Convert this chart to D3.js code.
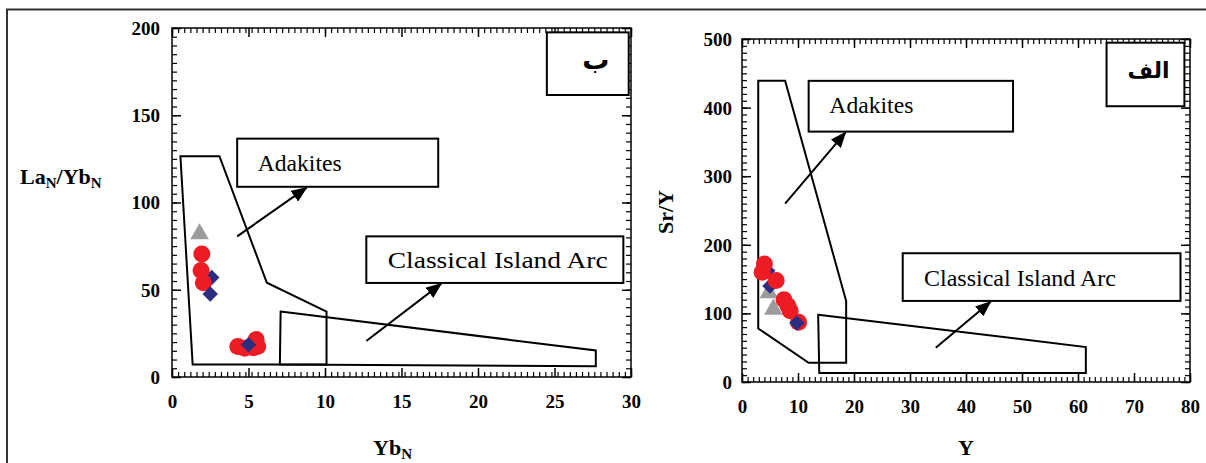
<!DOCTYPE html>
<html>
<head>
<meta charset="utf-8">
<script src="https://cdn.jsdelivr.net/npm/d3@7"></script>
<style>
  body { margin: 0; background: #fff; }
</style>
</head>
<body>
<script>
// ---- panel "ب" : LaN/YbN vs YbN ----
const xTicksB = [0, 5, 10, 15, 20, 25, 30];
const yTicksB = [0, 50, 100, 150, 200];
const grayB = [[1.8, 82]];
const navyUnderB = [[2.6, 57]];
const redB = [[1.95, 70.5], [1.9, 61], [2.05, 54], [4.3, 17.5], [4.75, 16.5], [5.3, 16.8], [5.5, 21.5], [5.6, 17.5]];
const navyB = [[2.5, 47.5], [5, 18.5]];
const adakiteFieldB = [[0.55, 126.5], [3.1, 126.5], [6.2, 54], [10.1, 37.5], [10.1, 7.2], [1.35, 7.2]];
const arcFieldB = [[7.1, 37.5], [27.7, 15.2], [27.7, 6.2], [7.05, 7.2]];

// ---- panel "الف" : Sr/Y vs Y ----
const xTicksA = [0, 10, 20, 30, 40, 50, 60, 70, 80];
const yTicksA = [0, 100, 200, 300, 400, 500];
const grayA = [[4.8, 130], [5.6, 106]];
const navyUnderA = [[4.6, 162], [5, 140]];
const redA = [[4.0, 172], [3.6, 160], [6.1, 148], [7.5, 120], [8.2, 111], [8.6, 104], [10.1, 87]];
const navyA = [[9.8, 86]];
const adakiteFieldA = [[2.9, 439], [7.7, 439], [18.6, 118], [18.6, 28], [11.9, 28], [2.9, 78]];
const arcFieldA = [[13.6, 98], [61.4, 51], [61.4, 13], [13.8, 13]];

const width = 1206, height = 463;
const serif = '"Liberation Serif", "Times New Roman", serif';

let svg = d3.select('body').append('svg')
    .attr('width', width)
    .attr('height', height);

svg.append('rect').attr('width', width).attr('height', height).attr('fill', '#fff');

// arrow head
svg.append('defs').append('marker')
    .attr('id', 'head')
    .attr('markerUnits', 'userSpaceOnUse')
    .attr('viewBox', '0 0 16 13')
    .attr('markerWidth', 16)
    .attr('markerHeight', 13)
    .attr('refX', 15)
    .attr('refY', 6.5)
    .attr('orient', 'auto')
    .append('path')
    .attr('d', 'M0,0 L16,6.5 L0,13 Z')
    .attr('fill', '#000');

// outer frame (top + left only)
svg.append('path')
    .attr('d', `M7,${height} V9.5 H${width}`)
    .attr('fill', 'none')
    .attr('stroke', '#333')
    .attr('stroke-width', 2);

function drawPanel(p) {
    let x = d3.scaleLinear().domain(p.xDomain).range(p.xRange);
    let y = d3.scaleLinear().domain(p.yDomain).range(p.yRange);
    let g = svg.append('g');

    let [x0, x1] = p.xRange, [y0, y1] = p.yRange;

    // minor ticks on all four sides, pointing inward
    let xMinor = d3.range(p.xDomain[0], p.xDomain[1] + 1e-9, p.xMinor);
    let yMinor = d3.range(p.yDomain[0], p.yDomain[1] + 1e-9, p.yMinor);

    let sides = [
        {axis: d3.axisBottom(x), t: `translate(0,${y0})`, minor: xMinor},
        {axis: d3.axisTop(x), t: `translate(0,${y1})`, minor: xMinor},
        {axis: d3.axisLeft(y), t: `translate(${x0},0)`, minor: yMinor},
        {axis: d3.axisRight(y), t: `translate(${x1},0)`, minor: yMinor}
    ];
    sides.forEach(s => {
        let mg = g.append('g').attr('transform', s.t)
            .call(s.axis.tickValues(s.minor).tickSize(-5).tickFormat(''));
        mg.select('.domain').remove();
        mg.selectAll('line').attr('stroke', '#000').attr('stroke-width', 1.2);
    });

    // major ticks
    let bottom = g.append('g').attr('transform', `translate(0,${y0})`)
        .call(d3.axisBottom(x).tickValues(p.xTicks).tickSize(-9));
    let top = g.append('g').attr('transform', `translate(0,${y1})`)
        .call(d3.axisTop(x).tickValues(p.xTicks).tickSize(-9).tickFormat(''));
    let left = g.append('g').attr('transform', `translate(${x0},0)`)
        .call(d3.axisLeft(y).tickValues(p.yTicks).tickSize(-9));
    let right = g.append('g').attr('transform', `translate(${x1},0)`)
        .call(d3.axisRight(y).tickValues(p.yTicks).tickSize(-9).tickFormat(''));

    [bottom, top, left, right].forEach(a => {
        a.select('.domain').remove();
        a.attr('font-family', serif).attr('font-size', '19px');
        a.selectAll('line').attr('stroke', '#000').attr('stroke-width', 1.5);
    });

    bottom.selectAll('text')
        .attr('y', 31).attr('dy', 0)
        .attr('font-family', serif).attr('font-weight', 'bold')
        .attr('font-size', '19px').attr('fill', '#000');
    left.selectAll('text')
        .attr('x', -p.yLabelPad).attr('dy', '0.34em')
        .attr('font-family', serif).attr('font-weight', 'bold')
        .attr('font-size', '19px').attr('fill', '#000');

    // plot frame
    g.append('rect')
        .attr('x', x0).attr('y', y1)
        .attr('width', x1 - x0).attr('height', y0 - y1)
        .attr('fill', 'none').attr('stroke', '#000').attr('stroke-width', 1.5);

    let line = d3.line().x(d => x(d[0])).y(d => y(d[1]));

    // fields
    [p.adakite, p.arc].forEach(f => {
        g.append('path')
            .attr('d', line(f) + 'Z')
            .attr('fill', 'none')
            .attr('stroke', '#000')
            .attr('stroke-width', 2);
    });

    // label boxes
    p.boxes.forEach(b => {
        g.append('rect')
            .attr('x', x(b.x0)).attr('y', y(b.y1))
            .attr('width', x(b.x1) - x(b.x0)).attr('height', y(b.y0) - y(b.y1))
            .attr('fill', '#fff').attr('stroke', '#000').attr('stroke-width', 2);
        g.append('text')
            .attr('x', x(b.tx)).attr('y', y(b.ty))
            .attr('font-family', serif)
            .attr('font-size', '24px')
            .attr('textLength', b.tw)
            .attr('lengthAdjust', 'spacingAndGlyphs')
            .attr('fill', '#000')
            .text(b.text);
    });

    // arrows
    p.arrows.forEach(a => {
        g.append('line')
            .attr('x1', x(a[0][0])).attr('y1', y(a[0][1]))
            .attr('x2', x(a[1][0])).attr('y2', y(a[1][1]))
            .attr('stroke', '#000').attr('stroke-width', 2)
            .attr('marker-end', 'url(#head)');
    });

    // panel tag
    g.append('rect')
        .attr('x', x(p.tag.x0)).attr('y', y(p.tag.y1))
        .attr('width', x(p.tag.x1) - x(p.tag.x0)).attr('height', y(p.tag.y0) - y(p.tag.y1))
        .attr('fill', '#fff').attr('stroke', '#000').attr('stroke-width', 2);
    g.append('text')
        .attr('x', x(p.tag.tx)).attr('y', y(p.tag.ty))
        .attr('dy', '0.35em')
        .attr('text-anchor', 'middle')
        .attr('font-family', '"DejaVu Sans", "Noto Sans", sans-serif')
        .attr('font-weight', 'bold')
        .attr('font-size', p.tag.size)
        .attr('fill', '#000')
        .text(p.tag.text);

    // symbols
    let tri = d3.symbol().type(d3.symbolTriangle).size(150);
    let dia = d3.symbol().type(d3.symbolSquare).size(120);

    g.selectAll('path.gray').data(p.gray).enter().append('path')
        .attr('class', 'gray')
        .attr('transform', d => `translate(${x(d[0])},${y(d[1])})`)
        .attr('d', tri)
        .attr('fill', '#9b9b9b');

    g.selectAll('path.navyUnder').data(p.navyUnder).enter().append('path')
        .attr('class', 'navyUnder')
        .attr('transform', d => `translate(${x(d[0])},${y(d[1])}) rotate(45)`)
        .attr('d', dia)
        .attr('fill', '#2b2d80');

    g.selectAll('circle.red').data(p.red).enter().append('circle')
        .attr('class', 'red')
        .attr('cx', d => x(d[0]))
        .attr('cy', d => y(d[1]))
        .attr('r', 8.5)
        .attr('fill', '#ed1c24');

    g.selectAll('path.navy').data(p.navy).enter().append('path')
        .attr('class', 'navy')
        .attr('transform', d => `translate(${x(d[0])},${y(d[1])}) rotate(45)`)
        .attr('d', dia)
        .attr('fill', '#2b2d80');
}

drawPanel({
    xDomain: [0, 30], xRange: [172, 631],
    yDomain: [0, 200], yRange: [377, 28],
    xTicks: xTicksB, yTicks: yTicksB,
    xMinor: 0.4, yMinor: 5, yLabelPad: 12,
    gray: grayB, navyUnder: navyUnderB, red: redB, navy: navyB,
    adakite: adakiteFieldB, arc: arcFieldB,
    boxes: [
        {x0: 4.26, x1: 17.4, y0: 109, y1: 136.6, text: 'Adakites', tx: 5.6, ty: 118, tw: 84},
        {x0: 12.7, x1: 29.5, y0: 53.9, y1: 80.6, text: 'Classical Island Arc', tx: 14.1, ty: 62.3, tw: 220}
    ],
    arrows: [[[4.26, 80.6], [8.8, 108.5]], [[12.7, 20.6], [17.6, 53.5]]],
    tag: {x0: 24.5, x1: 29.85, y0: 161.6, y1: 197.5, tx: 27.7, ty: 182, text: 'ب', size: '27px'}
});

drawPanel({
    xDomain: [0, 80], xRange: [742, 1190],
    yDomain: [0, 500], yRange: [382, 39],
    xTicks: xTicksA, yTicks: yTicksA,
    xMinor: 1, yMinor: 10, yLabelPad: 10,
    gray: grayA, navyUnder: navyUnderA, red: redA, navy: navyA,
    adakite: adakiteFieldA, arc: arcFieldA,
    boxes: [
        {x0: 11.9, x1: 48.4, y0: 365, y1: 439, text: 'Adakites', tx: 15.6, ty: 392, tw: 84},
        {x0: 28.7, x1: 78.3, y0: 118.2, y1: 187.7, text: 'Classical Island Arc', tx: 32.5, ty: 140, tw: 192}
    ],
    arrows: [[[7.7, 260], [18.5, 364]], [[34.6, 50], [44.4, 117]]],
    tag: {x0: 65.1, x1: 79, y0: 402, y1: 494.6, tx: 72.6, ty: 454, text: 'الف', size: '22px'}
});

// axis titles
let titleB = svg.append('text')
    .attr('x', 20).attr('y', 184)
    .attr('font-family', serif).attr('font-weight', 'bold')
    .attr('font-size', '22px').attr('fill', '#000');
titleB.append('tspan').text('La');
titleB.append('tspan').attr('font-size', '15px').attr('dy', 4).text('N');
titleB.append('tspan').attr('dy', -4).text('/Yb');
titleB.append('tspan').attr('font-size', '15px').attr('dy', 4).text('N');

let xTitleB = svg.append('text')
    .attr('x', 373).attr('y', 455)
    .attr('font-family', serif).attr('font-weight', 'bold')
    .attr('font-size', '22px').attr('fill', '#000');
xTitleB.append('tspan').text('Yb');
xTitleB.append('tspan').attr('font-size', '15px').attr('dy', 4).text('N');

svg.append('text')
    .attr('transform', 'translate(673,212) rotate(-90)')
    .attr('text-anchor', 'middle')
    .attr('font-family', serif).attr('font-weight', 'bold')
    .attr('font-size', '22px').attr('fill', '#000')
    .text('Sr/Y');

svg.append('text')
    .attr('x', 966).attr('y', 455)
    .attr('text-anchor', 'middle')
    .attr('font-family', serif).attr('font-weight', 'bold')
    .attr('font-size', '22px').attr('fill', '#000')
    .text('Y');
</script>
</body>
</html>
